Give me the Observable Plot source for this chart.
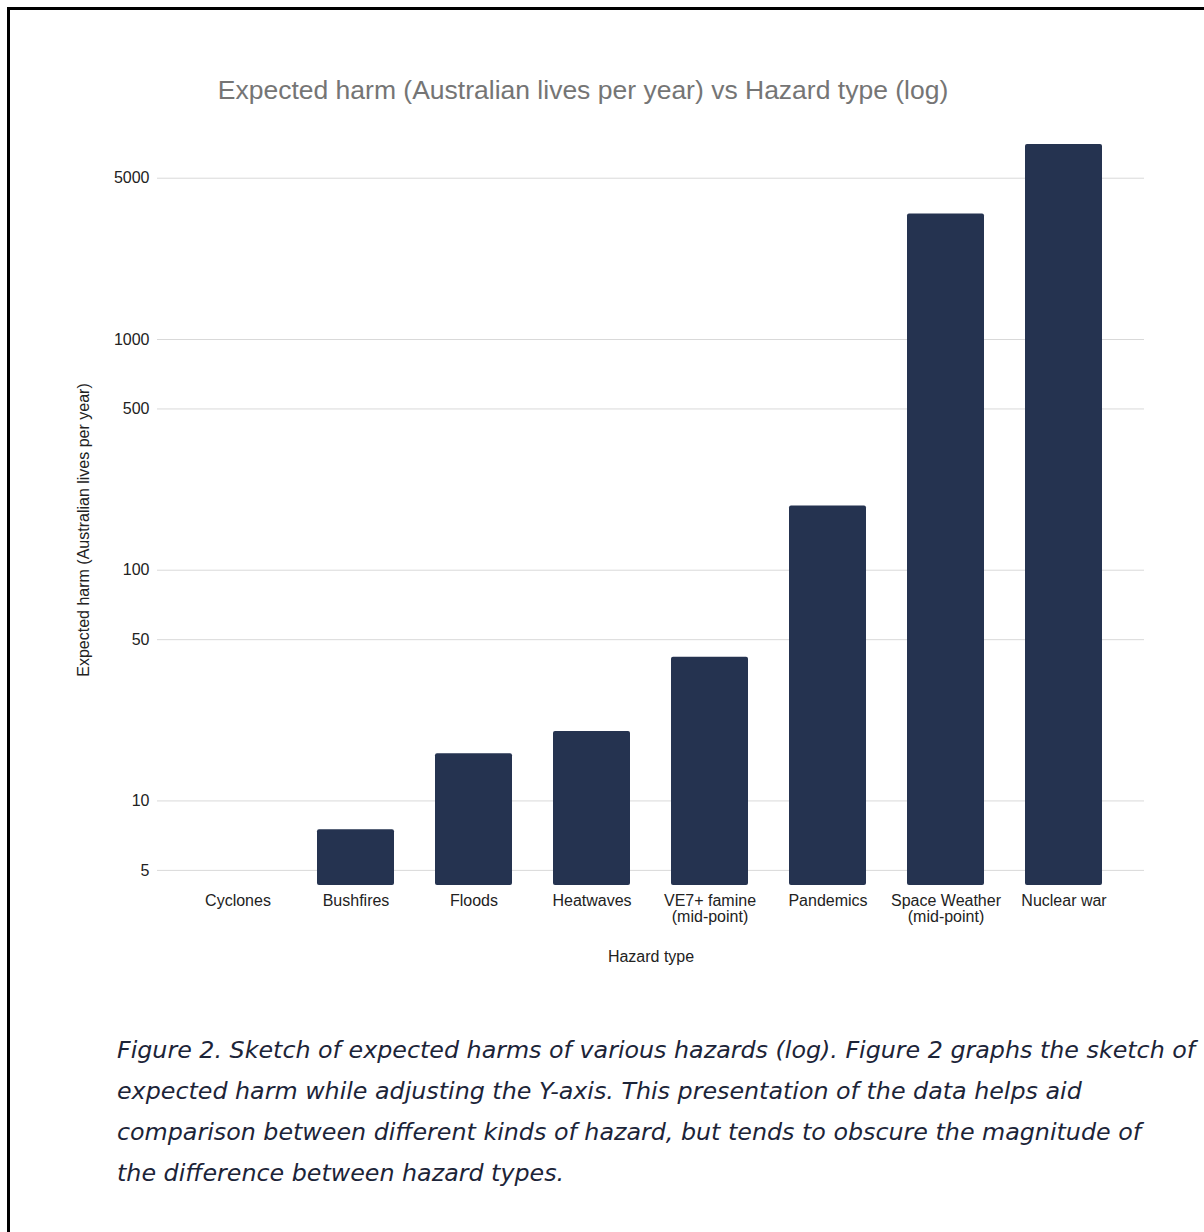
<!DOCTYPE html>
<html>
<head>
<meta charset="utf-8">
<script src="https://cdn.jsdelivr.net/npm/d3@7"></script>
<script src="https://cdn.jsdelivr.net/npm/@observablehq/plot@0.6"></script>
<style>
  html, body { margin: 0; padding: 0; background: #fff; }
  body { width: 1204px; height: 1232px; position: relative; overflow: hidden; }
  #frame {
    position: absolute; left: 7px; top: 7px;
    width: 1400px; height: 1400px;
    border: 3px solid #000;
  }
  #title {
    position: absolute; left: 0; top: 76.6px; width: 1166px;
    text-align: center;
    font-family: "Liberation Sans", Arial, sans-serif;
    font-size: 26.5px; line-height: 26.5px;
    color: #757575;
    white-space: nowrap;
  }
  #chart { position: absolute; left: 0; top: 0; }
  #caption {
    position: absolute; left: 117px; top: 1030px;
    font-family: "DejaVu Sans", sans-serif;
    font-style: italic;
    font-size: 22px; line-height: 41px;
    color: #1c2438;
  }
  #caption span { display: block; white-space: nowrap; }
</style>
</head>
<body>
<div id="frame"></div>
<div id="title">Expected harm (Australian lives per year) vs Hazard type (log)</div>
<div id="chart"></div>
<div id="caption">
  <span>Figure 2. Sketch of expected harms of various hazards (log). Figure 2 graphs the sketch of</span>
  <span>expected harm while adjusting the Y-axis. This presentation of the data helps aid</span>
  <span>comparison between different kinds of hazard, but tends to obscure the magnitude of</span>
  <span>the difference between hazard types.</span>
</div>
<script>
// Hazard categories (newline splits a tick label over two lines)
const hazards = [
  "Cyclones",
  "Bushfires",
  "Floods",
  "Heatwaves",
  "VE7+ famine\n(mid-point)",
  "Pandemics",
  "Space Weather\n(mid-point)",
  "Nuclear war"
];

// Expected harm, Australian lives per year
const harm = [1, 7.5, 16, 20, 42, 190, 3500, 7000];

// Log-axis tick values and extent
const yTicks = [5, 10, 50, 100, 500, 1000, 5000];
const yDomain = [4.3, 7000];

const xTitle = "Hazard type";
const yTitle = "Expected harm (Australian lives per year)";

const rows = hazards.map((h, i) => ({hazard: h, harm: harm[i]}));

const chart = Plot.plot({
  width: 1204,
  height: 990,
  marginTop: 144,
  marginBottom: 105,
  marginLeft: 157,
  marginRight: 60,
  style: {
    fontFamily: '"Liberation Sans", Arial, sans-serif',
    fontSize: "16px",
    color: "#222",
    background: "transparent",
    overflow: "visible"
  },
  x: {domain: hazards, range: [178.5, 1123.5], paddingInner: 0.347, paddingOuter: 0.1735, align: 0.5},
  y: {type: "log", domain: yDomain, clamp: true},
  marks: [
    Plot.ruleY(yTicks, {stroke: "#d9d9d9", strokeWidth: 1}),
    Plot.barY(rows, {x: "hazard", y1: () => yDomain[0], y2: "harm", fill: "#253350", rx: 2}),
    Plot.axisY(yTicks, {tickSize: 0, tickPadding: 8, tickFormat: d => String(d), label: null}),
    Plot.axisX({tickSize: 0, tickPadding: 9, label: null}),
    Plot.text([xTitle], {text: d => d, frameAnchor: "bottom", dy: 71, lineAnchor: "middle"}),
    Plot.text([yTitle], {text: d => d, frameAnchor: "left", rotate: -90, dx: -74, dy: 15, textAnchor: "middle", lineAnchor: "middle"})
  ]
});
document.getElementById("chart").appendChild(chart);

// Size the caption type so the first line fills the text column
const caption = document.getElementById("caption");
const first = caption.querySelector("span");
const natural = first.getBoundingClientRect().width;
caption.style.fontSize = (22 * 1079 / natural) + "px";
</script>
</body>
</html>
